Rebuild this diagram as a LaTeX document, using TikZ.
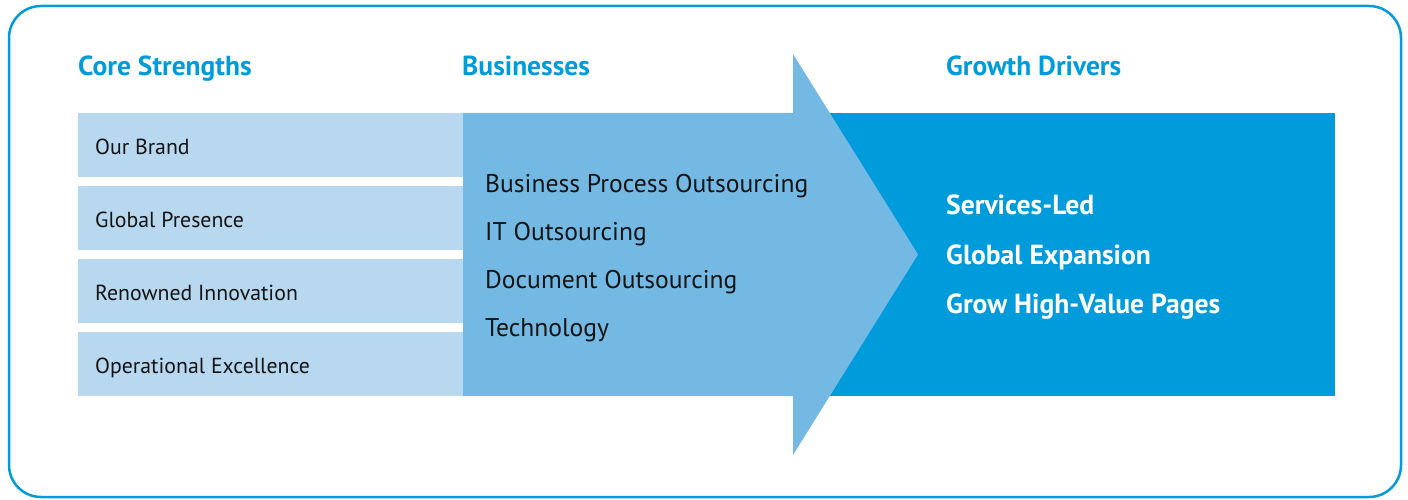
\documentclass[tikz,border=0pt]{standalone}
\usepackage{fontspec}
\setmainfont{PT Sans}
\definecolor{xblue}{RGB}{0,155,219}
\definecolor{darkbox}{RGB}{0,155,219}
\definecolor{arrowblue}{RGB}{116,185,228}
\definecolor{lightbox}{RGB}{184,216,240}
\definecolor{txt}{RGB}{20,20,20}
\tikzset{
  header/.style={anchor=base west, inner sep=0pt, text=xblue, font=\fontsize{27.5}{32}\selectfont\bfseries},
  strength/.style={anchor=base west, inner sep=0pt, text=txt, font=\fontsize{21.8}{26}\selectfont},
  business/.style={anchor=base west, inner sep=0pt, text=txt, font=\fontsize{25.6}{30}\selectfont},
  driver/.style={anchor=base west, inner sep=0pt, text=white, font=\fontsize{27.6}{32}\selectfont\bfseries},
}
\begin{document}
\begin{tikzpicture}[x=1pt,y=-1pt]
\useasboundingbox (0,0) rectangle (1408,500);
% frame
\draw[xblue, line width=2.5pt, rounded corners=32pt] (9,6) rectangle (1401,497);
% left boxes
\fill[lightbox] (78,113) rectangle (463,177);
\fill[lightbox] (78,186) rectangle (463,250);
\fill[lightbox] (78,259) rectangle (463,323);
\fill[lightbox] (78,332) rectangle (463,396);
% growth box
\fill[darkbox] (773,113) rectangle (1335,396);
% arrow
\fill[arrowblue] (463,113) -- (793,113) -- (793,54) -- (918,254.5) -- (793,455) -- (793,396) -- (463,396) -- cycle;
% headers
\node[header] (h1) at (78,76) {Core Strengths};
\node[header] (h2) at (462,76) {Businesses};
\node[header] (h3) at (946,76) {Growth Drivers};
% strengths
\node[strength] (s1) at (95,154) {Our Brand};
\node[strength] (s2) at (95,227) {Global Presence};
\node[strength] (s3) at (95,300) {Renowned Innovation};
\node[strength] (s4) at (95,373) {Operational Excellence};
% businesses
\node[business] (b1) at (485,192.5) {Business Process Outsourcing};
\node[business] (b2) at (485,240.8) {IT Outsourcing};
\node[business] (b3) at (485,288.8) {Document Outsourcing};
\node[business] (b4) at (485,336.7) {Technology};
% drivers
\node[driver] (d1) at (946,214.5) {Services-Led};
\node[driver] (d2) at (946,264) {Global Expansion};
\node[driver] (d3) at (946,313.5) {Grow High-Value Pages};
\end{tikzpicture}
\end{document}
